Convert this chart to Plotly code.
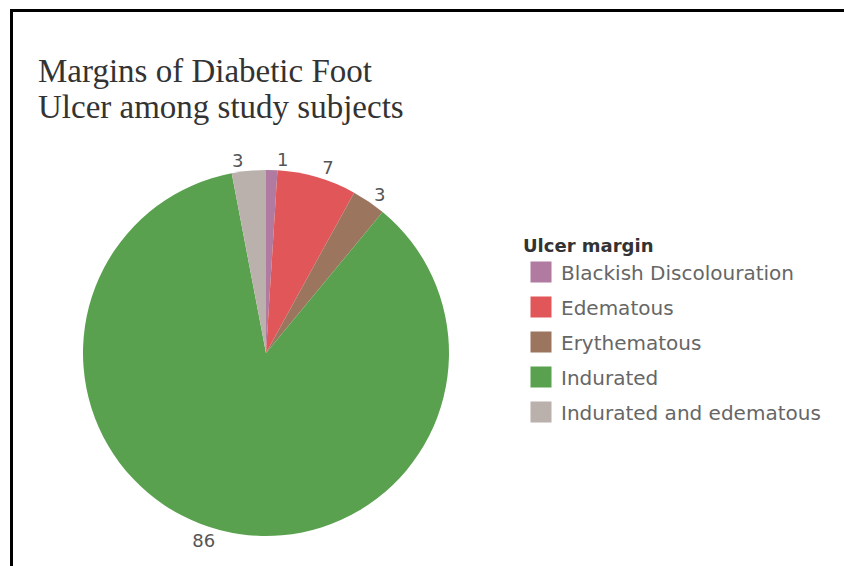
import plotly.graph_objects as go

# Ulcer margin categories and counts (clockwise from 12 o'clock)
margins = [
    "Blackish Discolouration",
    "Edematous",
    "Erythematous",
    "Indurated",
    "Indurated and edematous",
]
counts = [1, 7, 3, 86, 3]
colors = ["#b07aa1", "#e15759", "#9c755f", "#59a14f", "#bab0ac"]

title_lines = ["Margins of Diabetic Foot", "Ulcer among study subjects"]
legend_title = "Ulcer margin"

W, H = 844, 566

fig = go.Figure()

cx, cy, r = 266, 353, 183
pie_domain = dict(x=[(cx - r) / W, (cx + r) / W],
                  y=[(H - cy - r) / H, (H - cy + r) / H])
label_font = dict(family="DejaVu Sans", size=18, color="#555555")

# Main pie: every slice value except the smallest one printed outside
fig.add_trace(go.Pie(
    labels=margins,
    values=counts,
    marker=dict(colors=colors, line=dict(width=0)),
    sort=False,
    direction="clockwise",
    rotation=0,
    textinfo="value",
    textposition=["none", "outside", "outside", "outside", "outside"],
    textfont=label_font,
    showlegend=False,
    hoverinfo="label+value",
    domain=pie_domain,
))

# Transparent overlay carrying the label of the smallest slice, so it sits
# right above its slice instead of being pushed up by its neighbours
fig.add_trace(go.Pie(
    labels=margins,
    values=counts,
    marker=dict(colors=["rgba(0,0,0,0)"] * len(margins), line=dict(width=0)),
    sort=False,
    direction="clockwise",
    rotation=0,
    textinfo="value",
    textposition=["outside", "none", "none", "none", "none"],
    textfont=label_font,
    showlegend=False,
    hoverinfo="skip",
    domain=pie_domain,
))

# Legend entries: one square swatch per category
for name, col in zip(margins, colors):
    fig.add_trace(go.Scatter(
        x=[None], y=[None],
        mode="markers",
        name=name,
        legendgroup=name,
        marker=dict(symbol="square", size=16, color=col,
                    line=dict(width=5, color=col)),
        hoverinfo="skip",
    ))

# Frame along the top and left edges
fig.add_shape(type="line", xref="paper", yref="paper",
              x0=10 / W, x1=1, y0=1 - 10.5 / H, y1=1 - 10.5 / H,
              line=dict(color="black", width=3))
fig.add_shape(type="line", xref="paper", yref="paper",
              x0=11.5 / W, x1=11.5 / W, y0=0, y1=1 - 9 / H,
              line=dict(color="black", width=3))

# Two-line serif title
title_font = dict(family="Liberation Serif", size=33, color="#333333")
for line, ymid in zip(title_lines, [71, 107]):
    fig.add_annotation(
        text=line, showarrow=False,
        xref="paper", yref="paper",
        x=36 / W, xanchor="left",
        y=1 - ymid / H, yanchor="middle",
        font=title_font,
    )

fig.update_layout(
    width=W, height=H,
    margin=dict(l=0, r=0, t=0, b=0),
    paper_bgcolor="white",
    plot_bgcolor="white",
    xaxis=dict(visible=False),
    yaxis=dict(visible=False),
    legend=dict(
        title=dict(text="<b>" + legend_title + "</b>",
                   font=dict(family="DejaVu Sans", size=18, color="#333333")),
        font=dict(family="DejaVu Sans", size=20, color="#666666"),
        x=521 / W, xanchor="left",
        y=1 - 229 / H, yanchor="top",
        tracegroupgap=6,
        bgcolor="rgba(0,0,0,0)",
    ),
)

fig.write_html("out.html")
